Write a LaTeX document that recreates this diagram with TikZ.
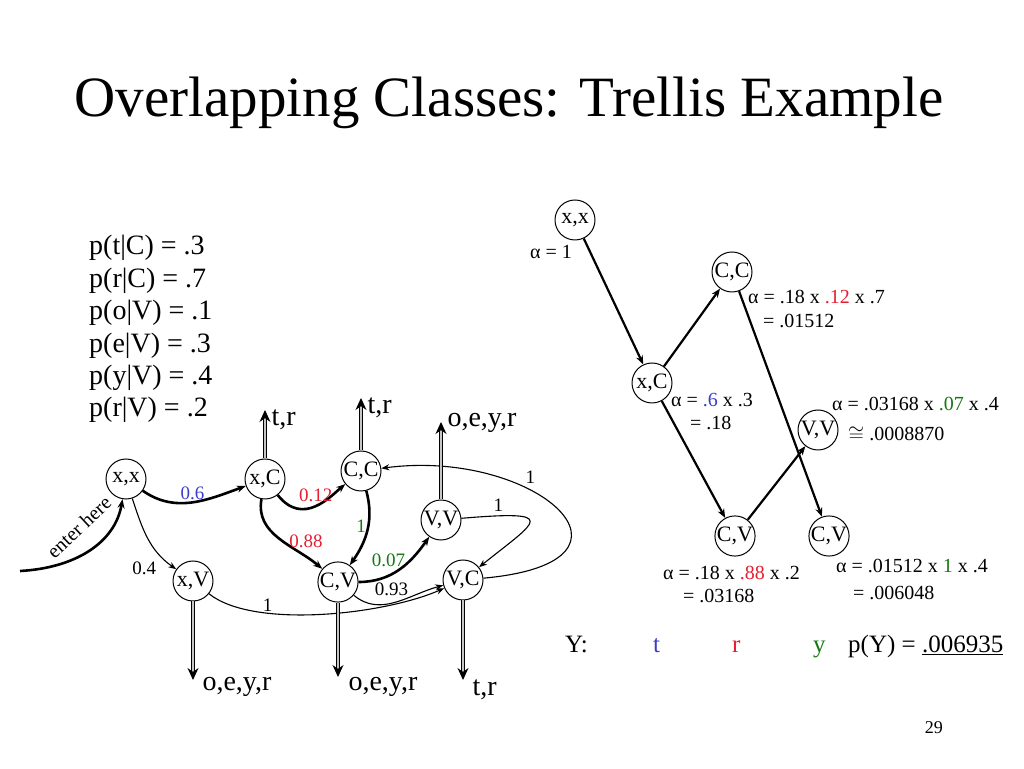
\documentclass[tikz,border=0pt]{standalone}
\usepackage{fontspec}
\setmainfont{Liberation Serif}
\usetikzlibrary{arrows.meta}
\definecolor{pblue}{RGB}{60,60,200}
\definecolor{pred}{RGB}{230,30,50}
\definecolor{pgreen}{RGB}{20,120,20}
\tikzset{
  state/.style={draw, circle, minimum size=40pt, inner sep=0pt, line width=1pt, font=\fontsize{22}{22}\selectfont},
  thickarr/.style={line width=2.6pt, -{Stealth[length=9pt,width=7pt]}},
  thinarr/.style={line width=1.1pt, -{Stealth[length=8pt,width=6pt]}},
  outarr/.style={draw=black, double=gray!45, double distance=2.8pt, line width=1pt, -{Stealth[length=12pt,width=11pt]}},
  elabel/.style={font=\fontsize{19}{19}\selectfont, inner sep=1pt},
  olabel/.style={font=\fontsize{28}{28}\selectfont, anchor=base west, inner sep=0pt},
  alabel/.style={font=\fontsize{20}{20}\selectfont, anchor=base west, inner sep=0pt}
}
\begin{document}
\begin{tikzpicture}[x=1pt,y=1pt]
\useasboundingbox (0,0) rectangle (1024,768);
\node[font=\fontsize{57}{57}\selectfont, anchor=base] (title) at (509,651) {Overlapping Classes: Trellis Example};
\node[font=\fontsize{28}{32.4}\selectfont, align=left, anchor=base west, inner sep=0pt] (probs) at (89,351) {p(t|C) = .3\\p(r|C) = .7\\p(o|V) = .1\\p(e|V) = .3\\p(y|V) = .4\\p(r|V) = .2};

\node[state] (xx1) at (126,289) {x,x};
\node[state] (xC1) at (265,289) {x,C};
\node[state] (CC1) at (361,297) {C,C};
\node[state] (VV1) at (441,248) {V,V};
\node[state] (CV1) at (338,186) {C,V};
\node[state] (VC1) at (463,188) {V,C};
\node[state] (xV1) at (193,187) {x,V};
\coordinate (enter) at (20,197);

\draw[thickarr] (enter) .. controls (75,200) and (115,225) .. (xx1);
\node[rotate=43, inner sep=0pt, font=\fontsize{20}{20}\selectfont] (enterlbl) at (79,241) {enter here};
\draw[thickarr] (xx1) to[out=-35,in=200] node[elabel, above, pos=0.5, text=pblue] {0.6} (xC1);
\draw[thinarr] (xx1) to[out=-72,in=145] node[elabel, left, pos=0.82, xshift=-6pt, yshift=-9pt] {0.4} (xV1);
\draw[thickarr] (xC1) .. controls +(38,-48) and +(-30,-25) .. node[elabel, above, pos=0.5, yshift=2pt, text=pred] {0.12} (CC1);
\draw[thickarr] (xC1) to[out=-100,in=140] node[elabel, right, pos=0.55, xshift=4pt, text=pred] {0.88} (CV1);
\draw[thickarr] (CC1) to[out=-75,in=55] node[elabel, left, pos=0.45, text=pgreen] {1} (CV1);
\draw[thickarr] (CV1) to[out=0,in=-125] node[elabel, above, pos=0.35, yshift=7pt, text=pgreen] {0.07} (VV1);
\draw[thinarr] (CV1) to[out=-40,in=195] node[elabel, above, pos=0.45, yshift=6pt] {0.93} (VC1);
\draw[thinarr] (xV1) .. controls +(60,-48) and +(-80,-35) .. node[elabel, above, pos=0.3] {1} (VC1);
\draw[thinarr] (VV1) .. controls +(120,10) and +(75,60) .. node[elabel, above, pos=0.15, yshift=3pt] {1} (VC1);
\draw[thinarr] (VC1) .. controls +(200,18) and +(175,23) .. node[elabel, above, pos=0.62, yshift=6pt] {1} (CC1);

\draw[outarr] (xC1) -- ++(0,69) node[olabel, xshift=6pt, yshift=-16pt] {t,r};
\draw[outarr] (CC1) -- ++(0,73) node[olabel, xshift=6pt, yshift=-16pt] {t,r};
\draw[outarr] (VV1) -- ++(0,98) node[olabel, xshift=6pt, yshift=-5pt] {o,e,y,r};
\draw[outarr] (xV1) -- ++(0,-99) node[olabel, xshift=9pt, yshift=-10pt] {o,e,y,r};
\draw[outarr] (CV1) -- ++(0,-95) node[olabel, xshift=10pt, yshift=-13pt] {o,e,y,r};
\draw[outarr] (VC1) -- ++(0,-100) node[olabel, xshift=9pt, yshift=-15pt] {t,r};

\node[state] (xx2) at (575,548) {x,x};
\node[state] (xC2) at (652,385) {x,C};
\node[state] (CC2) at (732,496) {C,C};
\node[state] (CV2) at (735,232) {C,V};
\node[state] (VV2) at (818,338) {V,V};
\node[state] (CV3) at (829,232) {C,V};

\draw[thickarr, line width=2.2pt] (xx2) -- (xC2);
\draw[thickarr, line width=2.2pt] (xC2) -- (CC2);
\draw[thickarr, line width=2.2pt] (xC2) -- (CV2);
\draw[thickarr, line width=2.2pt] (CC2) -- (CV3);
\draw[thickarr, line width=2.2pt] (CV2) -- (VV2);

\node[alabel] (a1) at (530,509) {α = 1};
\node[alabel] (a2) at (748,464) {α = .18 x \textcolor{pred}{.12} x .7};
\node[alabel] (a2b) at (763,440) {= .01512};
\node[alabel] (a3) at (671,361) {α = \textcolor{pblue}{.6} x .3};
\node[alabel] (a3b) at (690,338) {= .18};
\node[alabel] (a4) at (832,357) {α = .03168 x \textcolor{pgreen}{.07} x .4};
\node[alabel] (a4b) at (848,327) {$\cong$ .0008870};
\node[alabel] (a5) at (663,188) {α = .18 x \textcolor{pred}{.88} x .2};
\node[alabel] (a5b) at (683,165) {= .03168};
\node[alabel] (a6) at (836,195) {α = .01512 x \textcolor{pgreen}{1} x .4};
\node[alabel] (a6b) at (853,168) {= .006048};

\node[olabel, font=\fontsize{25}{25}\selectfont] (Y) at (565,116) {Y:};
\node[olabel, font=\fontsize{25}{25}\selectfont, text=pblue] (Yt) at (653,116) {t};
\node[olabel, font=\fontsize{25}{25}\selectfont, text=pred] (Yr) at (732,116) {r};
\node[olabel, font=\fontsize{25}{25}\selectfont, text=pgreen] (Yy) at (813,116) {y};
\node[olabel, font=\fontsize{25}{25}\selectfont] (pY) at (848,116) {p(Y) = \underline{.006935}};

\node[font=\fontsize{18}{18}\selectfont, anchor=base east, inner sep=0pt] (page) at (943,35) {29};
\end{tikzpicture}
\end{document}
